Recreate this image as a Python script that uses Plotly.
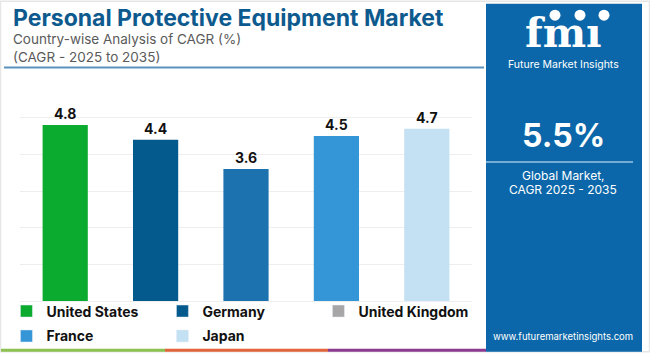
import plotly.graph_objects as go

# ---- data ----
countries = ["United States", "Germany", "United Kingdom", "France", "Japan"]
cagr = [4.8, 4.4, 3.6, 4.5, 4.7]
bar_colors = ["#0aab2e", "#045a8d", "#1b72ae", "#3496d6", "#c3e1f3"]
legend_colors = ["#0aab2e", "#045a8d", "#a6a6a6", "#3496d6", "#c3e1f3"]
global_cagr = "5.5%"

W_FIG, H_FIG = 650, 353
L, R_EDGE, T, B = 20, 472, 80.6, 301.5
PW, PH = R_EDGE - L, B - T


def px(x):
    return (x - L) / PW


def py(y):
    return (B - y) / PH


FONT = "Inter"
fig = go.Figure()
fig.add_trace(go.Bar(
    x=countries, y=cagr, marker=dict(color=bar_colors, line=dict(width=0)),
    texttemplate="%{y:.1f}", textposition="outside", cliponaxis=False,
    textfont=dict(family=FONT, size=14, color="#111111", weight="bold"),
    showlegend=False, hoverinfo="x+y",
))
for i, (name, col) in enumerate(zip(countries, legend_colors)):
    fig.add_trace(go.Bar(x=[None], y=[None], name=name, marker_color=col,
                         legend="legend" if i < 3 else "legend2"))

shapes = []
# light frame
shapes.append(dict(type="rect", xref="paper", yref="paper", x0=px(0.5), x1=px(649.5),
                   y0=py(352.5), y1=py(0.5), line=dict(color="#e6e6e6", width=1.5), layer="below"))
# right panel
shapes.append(dict(type="rect", xref="paper", yref="paper", x0=px(486), x1=px(642),
                   y0=py(352.5), y1=py(3), fillcolor="#0b67a9", line=dict(width=0), layer="below"))
# title underline
shapes.append(dict(type="line", xref="paper", yref="paper", x0=px(4), x1=px(484),
                   y0=py(67), y1=py(67), line=dict(color="#5a92bf", width=2)))
# bottom colour strip
for x0, x1, c in [(1, 165, "#8cc152"), (165, 328, "#e2643a"), (328, 486, "#8b3a8f")]:
    shapes.append(dict(type="line", xref="paper", yref="paper", x0=px(x0), x1=px(x1),
                       y0=py(351), y1=py(351), line=dict(color=c, width=3)))
# panel separator line
shapes.append(dict(type="line", xref="paper", yref="paper", x0=px(486), x1=px(633),
                   y0=py(162), y1=py(162), line=dict(color="#9cc3e2", width=1.5)))
# logo circles
for cx in [555, 580, 604]:
    shapes.append(dict(type="circle", xref="paper", yref="paper", x0=px(cx - 5.5), x1=px(cx + 5.5),
                       y0=py(20), y1=py(9), fillcolor="white", line=dict(width=0)))

ann = []
ann.append(dict(text="<b>Personal Protective Equipment Market</b>", x=px(11), y=py(17),
                font=dict(family=FONT, size=23, color="#0d5a8e")))
ann.append(dict(text="Country-wise Analysis of CAGR (%)", x=px(11), y=py(38),
                font=dict(family=FONT, size=13.5, color="#5a5a5a")))
ann.append(dict(text="(CAGR - 2025 to 2035)", x=px(11), y=py(56),
                font=dict(family=FONT, size=13.5, color="#5a5a5a")))
for a in ann:
    a.update(xref="paper", yref="paper", xanchor="left", yanchor="middle", showarrow=False)

panel = [
    dict(text="<b>fmı</b>", x=px(563), y=py(32), font=dict(family="DejaVu Serif", size=41, color="white")),
    dict(text="Future Market Insights", x=px(563), y=py(64), font=dict(family=FONT, size=10.5, color="white")),
    dict(text="<b>" + global_cagr + "</b>", x=px(563), y=py(135), font=dict(family=FONT, size=32, color="white")),
    dict(text="Global Market,", x=px(563), y=py(175), font=dict(family=FONT, size=12, color="white")),
    dict(text="CAGR 2025 - 2035", x=px(563), y=py(190), font=dict(family=FONT, size=12, color="white")),
    dict(text="www.futuremarketinsights.com", x=px(563), y=py(337), font=dict(family=FONT, size=9.5, color="white")),
]
for a in panel:
    a.update(xref="paper", yref="paper", xanchor="center", yanchor="middle", showarrow=False)

leg_common = dict(orientation="h", xanchor="left", yanchor="middle", entrywidth=111,
                  font=dict(family=FONT, size=14, color="#111111", weight="bold"),
                  bgcolor="rgba(0,0,0,0)", itemclick=False, itemdoubleclick=False)

fig.update_layout(
    width=W_FIG, height=H_FIG,
    margin=dict(l=L, r=W_FIG - R_EDGE, t=T, b=H_FIG - B, autoexpand=False),
    paper_bgcolor="white", plot_bgcolor="white",
    bargap=0.5,
    xaxis=dict(showticklabels=False, showgrid=False, zeroline=False, showline=False, ticks=""),
    yaxis=dict(range=[0, 6], dtick=1, showticklabels=False, gridcolor="#eeeeee", gridwidth=1,
               zeroline=True, zerolinecolor="#eeeeee", zerolinewidth=1, showline=False),
    legend=dict(x=-0.03, y=py(312), **leg_common),
    legend2=dict(x=-0.03, y=py(337), **leg_common),
    shapes=shapes, annotations=ann + panel,
    showlegend=True,
)

fig.write_html("out.html")
